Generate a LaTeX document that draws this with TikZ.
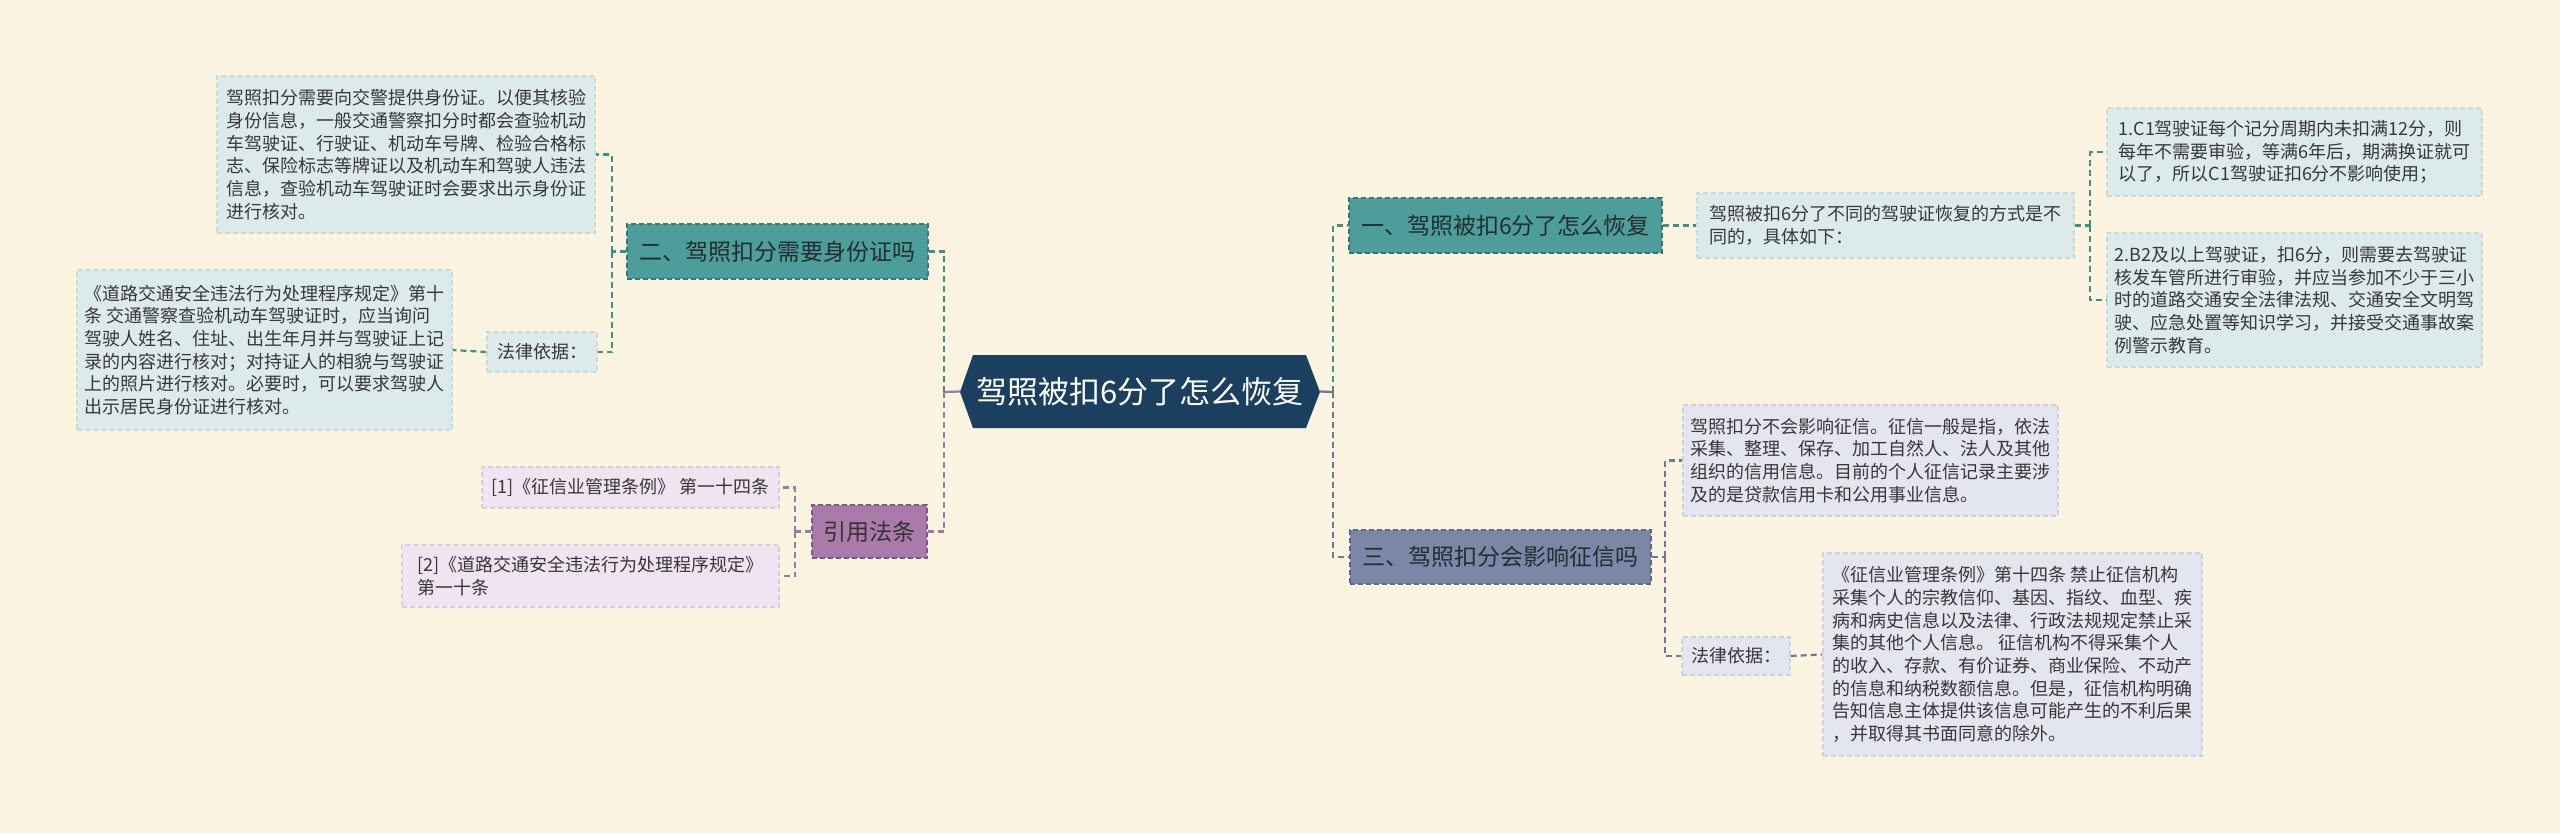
\documentclass[tikz,border=0pt]{standalone}
\usepackage{fontspec}
\newfontfamily\cjk{Noto Sans CJK SC}
\definecolor{bg}{RGB}{250,244,224}
\definecolor{navy}{RGB}{27,63,94}
\definecolor{tealbox}{RGB}{77,157,155}
\definecolor{tealedge}{RGB}{52,118,118}
\definecolor{tealline}{RGB}{62,145,135}
\definecolor{tealleaf}{RGB}{221,234,234}
\definecolor{tealleafedge}{RGB}{198,220,220}
\definecolor{slatebox}{RGB}{124,135,168}
\definecolor{slateedge}{RGB}{92,102,132}
\definecolor{slateline}{RGB}{112,118,150}
\definecolor{slateleaf}{RGB}{227,230,239}
\definecolor{slateleafedge}{RGB}{205,210,225}
\definecolor{purpbox}{RGB}{170,122,170}
\definecolor{purpedge}{RGB}{128,88,132}
\definecolor{purpline}{RGB}{160,118,165}
\definecolor{purpleaf}{RGB}{239,228,239}
\definecolor{purpleafedge}{RGB}{220,205,222}
\definecolor{txt}{RGB}{55,55,55}
\definecolor{btxt}{RGB}{35,45,48}
\begin{document}
\begin{tikzpicture}[x=1pt,y=-1pt,
  conn/.style={dash pattern=on 6pt off 4pt, line width=2.2pt},
  box/.style={rectangle, inner sep=0pt, align=left, dash pattern=on 5pt off 3pt, line width=1.2pt},
  leaf/.style={box, font=\cjk\fontsize{18}{22.7}\selectfont, text=txt},
  tleaf/.style={leaf, fill=tealleaf, draw=tealleafedge},
  sleaf/.style={leaf, fill=slateleaf, draw=slateleafedge},
  pleaf/.style={leaf, fill=purpleaf, draw=purpleafedge},
  branch/.style={box, font=\cjk\fontsize{23}{28}\selectfont, text=btxt},
]
\fill[bg] (0,0) rectangle (2560,833);
\useasboundingbox (0,0) rectangle (2560,833);

% root
\fill[navy] (960,392) -- (973,355) -- (1306,355) -- (1320,392) -- (1306,428) -- (973,428) -- cycle;
\node[font=\cjk\fontsize{31}{36}\selectfont, text=white, minimum width=360, minimum height=73, inner sep=0pt] (root) at (1140,391.5) {驾照被扣6分了怎么恢复};

% branches
\node[branch, fill=tealbox, draw=tealedge, minimum width=301, minimum height=55] (b2) at (777.5,251.5) {二、驾照扣分需要身份证吗};
\node[branch, fill=purpbox, draw=purpedge, minimum width=115, minimum height=53, text=black!80] (ref) at (869.5,531.5) {引用法条};
\node[branch, fill=tealbox, draw=tealedge, minimum width=313, minimum height=55] (b1) at (1505.5,225.5) {一、驾照被扣6分了怎么恢复};
\node[branch, fill=slatebox, draw=slateedge, minimum width=301, minimum height=54] (b3) at (1500.5,557) {三、驾照扣分会影响征信吗};

% left leaves
\node[tleaf, minimum width=378, minimum height=157] (la) at (406,154.5) {驾照扣分需要向交警提供身份证。以便其核验\\身份信息，一般交通警察扣分时都会查验机动\\车驾驶证、行驶证、机动车号牌、检验合格标\\志、保险标志等牌证以及机动车和驾驶人违法\\信息，查验机动车驾驶证时会要求出示身份证\\进行核对。};
\node[tleaf, minimum width=110, minimum height=40] (lawl) at (542,352) {法律依据：};
\node[tleaf, minimum width=375, minimum height=160] (lb) at (264.5,350) {《道路交通安全违法行为处理程序规定》第十\\条 交通警察查验机动车驾驶证时，应当询问\\驾驶人姓名、住址、出生年月并与驾驶证上记\\录的内容进行核对；对持证人的相貌与驾驶证\\上的照片进行核对。必要时，可以要求驾驶人\\出示居民身份证进行核对。};
\node[pleaf, minimum width=297, minimum height=41] (r1) at (630.5,487.5) {[1]《征信业管理条例》 第一十四条};
\node[pleaf, minimum width=377, minimum height=62] (r2) at (590.5,576) {[2]《道路交通安全违法行为处理程序规定》\\第一十条};

% right leaves
\node[tleaf, minimum width=377, minimum height=65] (l1) at (1885.5,225.5) {驾照被扣6分了不同的驾驶证恢复的方式是不\\同的，具体如下：};
\node[tleaf, minimum width=375, minimum height=88] (c1) at (2294.5,152) {1.C1驾驶证每个记分周期内未扣满12分，则\\每年不需要审验，等满6年后，期满换证就可\\以了，所以C1驾驶证扣6分不影响使用；};
\node[tleaf, minimum width=375, minimum height=134] (c2) at (2294.5,300) {2.B2及以上驾驶证，扣6分，则需要去驾驶证\\核发车管所进行审验，并应当参加不少于三小\\时的道路交通安全法律法规、交通安全文明驾\\驶、应急处置等知识学习，并接受交通事故案\\例警示教育。};
\node[sleaf, minimum width=375, minimum height=111] (zx) at (1870.5,460.5) {驾照扣分不会影响征信。征信一般是指，依法\\采集、整理、保存、加工自然人、法人及其他\\组织的信用信息。目前的个人征信记录主要涉\\及的是贷款信用卡和公用事业信息。};
\node[sleaf, minimum width=108, minimum height=38] (lawr) at (1736,656) {法律依据：};
\node[sleaf, minimum width=379, minimum height=203] (zxl) at (2012.5,654.5) {《征信业管理条例》第十四条 禁止征信机构\\采集个人的宗教信仰、基因、指纹、血型、疾\\病和病史信息以及法律、行政法规规定禁止采\\集的其他个人信息。 征信机构不得采集个人\\的收入、存款、有价证券、商业保险、不动产\\的信息和纳税数额信息。但是，征信机构明确\\告知信息主体提供该信息可能产生的不利后果\\，并取得其书面同意的除外。};

% junctions
\coordinate (jl) at (944,392);
\coordinate (jr) at (1333,392);
\coordinate (j2) at (612,251.5);
\coordinate (jref) at (795,531.5);
\coordinate (j1) at (2090,225.5);
\coordinate (j3) at (1665,557);

% connectors from root
\draw[purpline, line width=2.2pt] (root.west) -- (jl);
\draw[conn, tealline] (jl) |- (b2.east);
\draw[conn, purpline] (jl) |- (ref.east);
\draw[slateline, line width=2.2pt] (root.east) -- (jr);
\draw[conn, tealline] (jr) |- (b1.west);
\draw[conn, slateline] (jr) |- (b3.west);

% branch 2
\draw[conn, tealline] (b2.west) -- (j2);
\draw[conn, tealline] (j2) |- (la.east);
\draw[conn, tealline] (j2) |- (lawl.east);
\draw[conn, tealline] (lawl.west) -- (lb.east);

% ref
\draw[conn, purpline] (ref.west) -- (jref);
\draw[conn, purpline] (jref) |- (r1.east);
\draw[conn, purpline] (jref) |- (r2.east);

% branch 1
\draw[conn, tealline] (b1.east) -- (l1.west);
\draw[conn, tealline] (l1.east) -- (j1);
\draw[conn, tealline] (j1) |- (c1.west);
\draw[conn, tealline] (j1) |- (c2.west);

% branch 3
\draw[conn, slateline] (b3.east) -- (j3);
\draw[conn, slateline] (j3) |- (zx.west);
\draw[conn, slateline] (j3) |- (lawr.west);
\draw[conn, slateline] (lawr.east) -- (zxl.west);
\end{tikzpicture}
\end{document}
